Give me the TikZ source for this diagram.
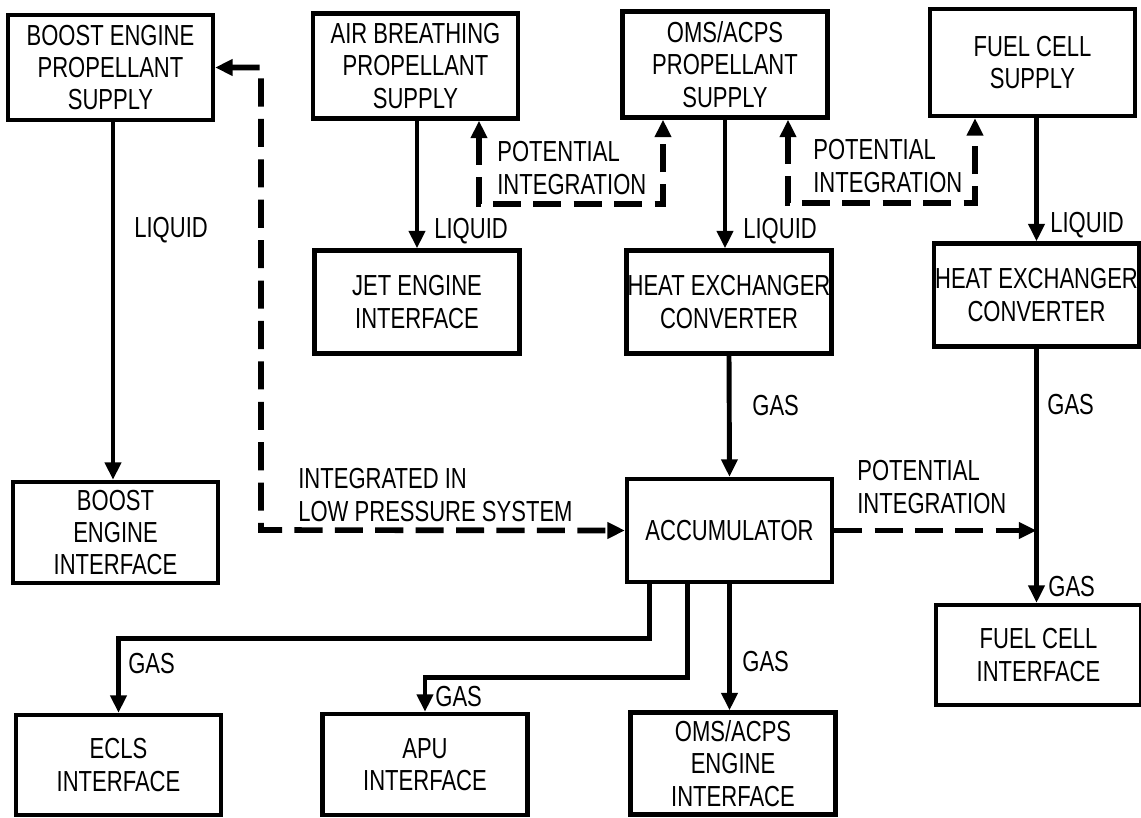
\documentclass[tikz,border=0pt]{standalone}
\usepackage{fontspec}
\setmainfont{Liberation Sans}[FakeStretch=0.76]
\usetikzlibrary{positioning, arrows.meta, calc}

\begin{document}
\begin{tikzpicture}[
    x=0.02cm, y=-0.02cm,
    box/.style={draw, line width=2.4pt, fill=white, align=center, minimum width=4.1cm, minimum height=2.06cm, inner sep=0pt, font=\fontsize{16.5}{18.4}\selectfont},
    flow/.style={line width=2.8pt, -{Triangle[length=10pt,width=9pt]}},
    pflow/.style={line width=3.2pt, dash pattern=on 16pt off 7pt, {Triangle[length=10pt,width=9pt]}-{Triangle[length=10pt,width=9pt]}},
    note/.style={anchor=west, align=left, inner sep=0pt, font=\fontsize{16.5}{18.4}\selectfont}
]
    \useasboundingbox (0,0) rectangle (1141,817);

    % Supply row
    \node[box, minimum height=2.1cm] (bsup) at (110.5,67.5) {BOOST ENGINE\\PROPELLANT\\SUPPLY};
    \node[box, minimum height=2.1cm] (absup) at (415.5,66) {AIR BREATHING\\PROPELLANT\\SUPPLY};
    \node[box, minimum height=2.12cm] (omsup) at (725,64.5) {OMS/ACPS\\PROPELLANT\\SUPPLY};
    \node[box, minimum height=2.14cm] (fcsup) at (1032.5,62.5) {FUEL CELL\\SUPPLY};

    % Converters
    \node[box] (jet) at (417,302) {JET ENGINE\\INTERFACE};
    \node[box] (hx1) at (729,302) {HEAT EXCHANGER\\CONVERTER};
    \node[box] (hx2) at (1036.5,295) {HEAT EXCHANGER\\CONVERTER};

    % Middle row
    \node[box, minimum height=2.02cm] (bint) at (115.5,532.5) {BOOST\\ENGINE\\INTERFACE};
    \node[box] (acc) at (729.5,530.5) {ACCUMULATOR};
    \node[box, minimum height=2cm] (fcint) at (1038.5,655) {FUEL CELL\\INTERFACE};

    % Bottom row
    \node[box, minimum height=2cm] (ecls) at (118.5,765) {ECLS\\INTERFACE};
    \node[box, minimum height=2.02cm] (apu) at (425,764.5) {APU\\INTERFACE};
    \node[box, minimum height=2.04cm] (omsint) at (733,763.5) {OMS/ACPS\\ENGINE\\INTERFACE};

    % Liquid lines
    \coordinate (bl) at (113,0);
    \draw[flow] (bsup.south -| bl) -- (bint.north -| bl);
    \draw[flow] (absup.south -| jet.north) -- (jet.north);
    \draw[flow] (omsup.south) -- (omsup.south |- hx1.north);
    \draw[flow] (fcsup.south -| hx2.north) -- (hx2.north);
    \node[note] (liq1) at (134,230) {LIQUID};
    \node[note] (liq2) at (434,231) {LIQUID};
    \node[note] (liq3) at (743,231) {LIQUID};
    \node[note] (liq4) at (1050,225) {LIQUID};

    % Gas lines
    \draw[flow] (hx1.south) -- (acc.north);
    \draw[flow] (hx2.south) -- (hx2.south |- fcint.north);
    \draw[flow] ([xshift=0.5cm]acc.south west) -- ++(0,54) -| (ecls.north);
    \draw[flow] ([xshift=1.26cm]acc.south west) -- ++(0,93) -| (apu.north);
    \draw[flow] (acc.south) -- (acc.south |- omsint.north);
    \node[note] (gas1) at (752,406) {GAS};
    \node[note] (gas2) at (1047,405) {GAS};
    \node[note] (gas3) at (1048,587) {GAS};
    \node[note] (gas4) at (128,664) {GAS};
    \node[note] (gas5) at (435,697) {GAS};
    \node[note] (gas6) at (742,662) {GAS};

    % Potential integration
    \coordinate (pa) at (479,204);
    \coordinate (pb) at (663,204);
    \coordinate (pc) at (788,203);
    \coordinate (pd) at (975,203);
    \coordinate (pe) at (261,530);
    \draw[pflow] (absup.south -| pa) -- (pa) -- (pb) -- (omsup.south -| pb);
    \draw[pflow] (omsup.south -| pc) -- (pc) -- (pd) -- (fcsup.south -| pd);
    \draw[pflow] (bsup.east) -| (pe) -- (acc.west);
    \draw[pflow, -{Triangle[length=10pt,width=9pt]}] (acc.east) -- (acc.east -| hx2.south);
    \node[note] (pot1) at (497,168) {POTENTIAL\\INTEGRATION};
    \node[note] (pot2) at (813,166) {POTENTIAL\\INTEGRATION};
    \node[note] (pot3) at (857,487) {POTENTIAL\\INTEGRATION};
    \node[note] (lps) at (298,495) {INTEGRATED IN\\LOW PRESSURE SYSTEM};
\end{tikzpicture}
\end{document}
